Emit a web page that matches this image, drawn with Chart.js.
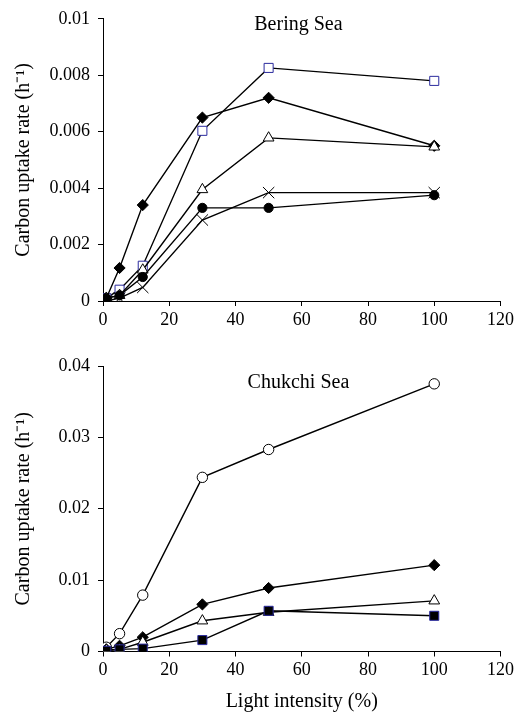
<!DOCTYPE html>
<html>
<head>
<meta charset="utf-8">
<title>Carbon uptake rate vs light intensity</title>
<script src="https://cdn.jsdelivr.net/npm/chart.js@4.4.1/dist/chart.umd.min.js"></script>
<style>
    html, body { margin: 0; padding: 0; background: #fff; }
    canvas { display: block; }
</style>
</head>
<body>

<canvas id="beringChart" width="517" height="340"></canvas>
<canvas id="chukchiChart" width="517" height="375"></canvas>

<script>

/*
 Light intensity (%) vs carbon uptake rate (h-1)
*/

const lightLevels = [1, 5, 12, 30, 50, 100]

const xTickValues = [0, 20, 40, 60, 80, 100, 120]

// Bering Sea
const beringSquare = [0.0001, 0.0004, 0.00125, 0.00603, 0.00826, 0.0078]
const beringDiamond = [0.0001, 0.00117, 0.0034, 0.0065, 0.0072, 0.0055]
const beringTriangle = [0.0001, 0.0002, 0.0011, 0.00395, 0.00578, 0.00546]
const beringCross = [0.0, 0.0001, 0.00048, 0.00287, 0.00384, 0.00384]
const beringCircle = [0.0001, 0.0002, 0.00085, 0.0033, 0.0033, 0.00375]
const beringTickValues = [0, 0.002, 0.004, 0.006, 0.008, 0.01]

// Chukchi Sea
const chukchiCircle = [0.0006, 0.0025, 0.0079, 0.0244, 0.0283, 0.0375]
const chukchiDiamond = [0.0003, 0.0008, 0.002, 0.0066, 0.0089, 0.0121]
const chukchiTriangle = [0.0002, 0.0003, 0.0013, 0.0043, 0.0055, 0.0071]
const chukchiSquare = [0.0001, 0.0003, 0.0004, 0.0016, 0.0057, 0.005]
const chukchiTickValues = [0, 0.01, 0.02, 0.03, 0.04]

const yTitle = "Carbon uptake rate (h\u207B\u00B9)"
const xTitle = "Light intensity (%)"

Chart.defaults.font.family = "'Liberation Serif', 'Times New Roman', serif"
Chart.defaults.color = "#000"

function toPoints(values) {
    return lightLevels.map((x, i) => ({ x: x, y: values[i] }))
}

function series(values, style, radius, fill, edge) {
    return {
        data: toPoints(values),
        showLine: true,
        borderColor: "#000",
        borderWidth: 1.4,
        pointStyle: style,
        pointRadius: radius,
        pointHoverRadius: radius,
        pointBackgroundColor: fill,
        pointBorderColor: edge,
        pointBorderWidth: 1
    }
}

// sea name written inside the plot
const seaLabel = {
    id: "seaLabel",
    afterDatasetsDraw(chart, args, opts) {
        const ctx = chart.ctx
        ctx.save()
        ctx.font = "20px 'Liberation Serif', serif"
        ctx.fillStyle = "#000"
        ctx.textAlign = "center"
        ctx.textBaseline = "middle"
        ctx.fillText(opts.text, chart.scales.x.getPixelForValue(opts.at), chart.chartArea.top + opts.dy)
        ctx.restore()
    }
}

function makeChart(id, datasets, yTicks, cfg) {

    const canvas = document.getElementById(id)

    return new Chart(canvas, {
        type: "scatter",
        data: { datasets: datasets },
        plugins: [seaLabel],
        options: {
            responsive: false,
            animation: false,
            layout: {
                padding: { left: 0, top: cfg.top, right: cfg.right, bottom: 0 }
            },
            plugins: {
                legend: { display: false },
                tooltip: { enabled: false },
                seaLabel: { text: cfg.name, at: 59, dy: cfg.labelDy }
            },
            scales: {
                x: {
                    type: "linear",
                    min: 0,
                    max: 120,
                    afterBuildTicks: s => { s.ticks = xTickValues.map(v => ({ value: v })) },
                    afterFit: s => { s.height = cfg.xHeight },
                    border: { color: "#000", width: 1 },
                    grid: { drawOnChartArea: false, tickLength: 5, tickColor: "#000" },
                    ticks: { font: { size: 18 }, padding: 3, maxRotation: 0 },
                    title: {
                        display: cfg.showXTitle,
                        text: xTitle,
                        font: { size: 20 },
                        padding: { top: 0, bottom: 1 }
                    }
                },
                y: {
                    type: "linear",
                    min: 0,
                    max: yTicks[yTicks.length - 1],
                    afterBuildTicks: s => { s.ticks = yTicks.map(v => ({ value: v })) },
                    afterFit: s => { s.width = 103 },
                    border: { color: "#000", width: 1 },
                    grid: { drawOnChartArea: false, tickLength: 5, tickColor: "#000" },
                    ticks: { font: { size: 18 }, padding: 8, callback: v => String(v) },
                    title: {
                        display: true,
                        text: yTitle,
                        font: { size: 20 },
                        padding: { top: 12, bottom: 0 }
                    }
                }
            }
        }
    })
}

window.addEventListener("load", () => {

    makeChart("beringChart", [
        series(beringCircle, "circle", 4.6, "#000", "#000"),
        series(beringCross, "crossRot", 8, "#000", "#000"),
        series(beringTriangle, "triangle", 6.2, "#fff", "#000"),
        series(beringDiamond, "rectRot", 5.6, "#000", "#000"),
        series(beringSquare, "rect", 6.4, "#fff", "#2b2b9e")
    ], beringTickValues, { name: "Bering Sea", top: 16, right: 12, xHeight: 39, showXTitle: false, labelDy: 6 })

    makeChart("chukchiChart", [
        series(chukchiSquare, "rect", 6.4, "#000", "#2b2b9e"),
        series(chukchiTriangle, "triangle", 6.2, "#fff", "#000"),
        series(chukchiDiamond, "rectRot", 5.6, "#000", "#000"),
        series(chukchiCircle, "circle", 5.2, "#fff", "#000")
    ], chukchiTickValues, { name: "Chukchi Sea", top: 26, right: 15, xHeight: 63.5, showXTitle: true, labelDy: 17 })

})

</script>
</body>
</html>
